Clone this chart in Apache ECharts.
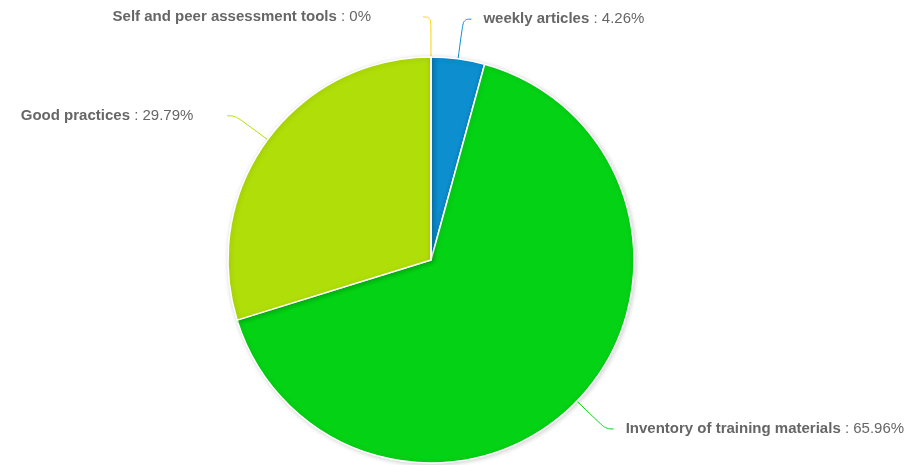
<!DOCTYPE html>
<html>
<head>
<meta charset="utf-8">
<script src="https://cdn.jsdelivr.net/npm/echarts@6/dist/echarts.min.js"></script>
<style>
  html, body { margin: 0; padding: 0; background: #fff; }
  #chart { width: 906px; height: 465px; }
</style>
</head>
<body>
<div id="chart"></div>
<script>
// Share of items per resource type
const categories = [
  'weekly articles',
  'Inventory of training materials',
  'Good practices',
  'Self and peer assessment tools'
];
const counts = [2, 31, 14, 0];
const sliceColors = ['#0D8ECF', '#04D215', '#B0DE09', '#FCD202'];

const total = counts.reduce((a, b) => a + b, 0);

// left-side labels sit a bit further away from their connector lines
const labelGap = { 'Good practices': 34, 'Self and peer assessment tools': 52 };

const data = categories.map((name, i) => ({
  name: name,
  value: counts[i],
  itemStyle: { color: sliceColors[i] },
  label: { distanceToLabelLine: labelGap[name] || 12 },
  labelLine: { lineStyle: { color: sliceColors[i] } }
}));

const FONT = 'Liberation Sans, Arial, sans-serif';

const chart = echarts.init(document.getElementById('chart'));
chart.setOption({
  animation: false,
  series: [{
    type: 'pie',
    center: [431, 260],
    radius: [0, 203],
    startAngle: 90,
    clockwise: true,
    avoidLabelOverlap: false,
    data: data,
    itemStyle: {
      borderColor: '#ffffff',
      borderWidth: 1.5,
      shadowBlur: 5,
      shadowOffsetX: 1,
      shadowOffsetY: 1,
      shadowColor: 'rgba(0,0,0,0.18)'
    },
    label: {
      show: true,
      position: 'outside',
      fontFamily: FONT,
      fontSize: 15,
      color: '#666666',
      formatter: function (p) {
        const pct = (p.value / total * 100).toFixed(2).replace(/\.?0+$/, '');
        return '{b|' + p.name + '} : ' + pct + '%';
      },
      rich: {
        b: {
          fontWeight: 'bold',
          fontSize: 15,
          color: '#666666',
          fontFamily: FONT
        }
      }
    },
    labelLine: {
      show: true,
      length: 40,
      length2: 8,
      smooth: 0.4,
      lineStyle: { width: 1 }
    },
    emphasis: { disabled: true }
  }]
});
</script>
</body>
</html>
